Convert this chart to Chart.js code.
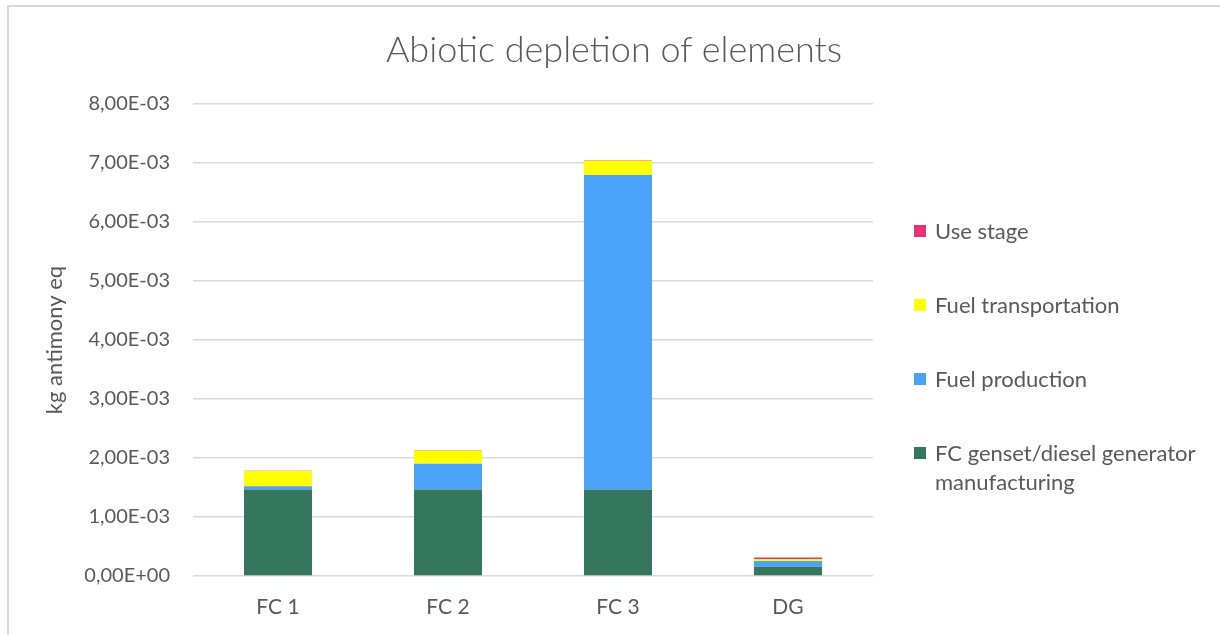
<!DOCTYPE html>
<html>
<head>
<meta charset="utf-8">
<title>Abiotic depletion of elements</title>
<script src="https://cdn.jsdelivr.net/npm/chart.js@4.4.1/dist/chart.umd.min.js"></script>
<style>
  html, body { margin: 0; padding: 0; background: #ffffff; }
  #wrap { position: relative; width: 1220px; height: 635px; overflow: hidden; font-family: Lato, "Open Sans", sans-serif; color: #595959; }
  #frame { position: absolute; left: 7px; top: 5px; right: -10px; bottom: -10px; border-left: 2px solid #d9d9d9; border-top: 2px solid #d9d9d9; }
  #c { position: absolute; left: 0; top: 0; }
  #title { position: absolute; left: 614px; top: 30px; transform: translateX(-50%); font-size: 36px; font-weight: 300; line-height: 1; white-space: nowrap; }
  .item { position: absolute; left: 914px; width: 300px; font-size: 22px; line-height: 28.5px; }
  .sw { position: absolute; left: 0; top: 8px; width: 12px; height: 12px; }
  .txt { position: absolute; left: 21px; width: 285px; }
</style>
</head>
<body>
<div id="wrap">
  <div id="frame"></div>
  <canvas id="c" width="1220" height="635"></canvas>
  <div id="title">Abiotic depletion of elements</div>
  <div id="legend"></div>
</div>
<script>
// Life-cycle stages per system (kg antimony eq)
const categories = ['FC 1', 'FC 2', 'FC 3', 'DG'];
const manufacturing = [1.467e-3, 1.467e-3, 1.460e-3, 0.155e-3];
const fuelProduction = [0.056e-3, 0.435e-3, 5.338e-3, 0.100e-3];
const fuelTransportation = [0.255e-3, 0.227e-3, 0.242e-3, 0.030e-3];
const useStage = [0.006e-3, 0.006e-3, 0.006e-3, 0.027e-3];

const seriesNames = ['FC genset/diesel generator manufacturing', 'Fuel production', 'Fuel transportation', 'Use stage'];
const seriesColors = ['#35775c', '#4aa3f9', '#ffff00', '#e8327a'];
const seriesValues = [manufacturing, fuelProduction, fuelTransportation, useStage];

const yMin = 0, yMax = 8e-3, yStep = 1e-3;
const textColor = '#595959';
const gridColor = '#d9d9d9';

// Excel-style scientific label, e.g. 8,00E-03
function sci(v) {
  if (Math.abs(v) < 1e-12) return '0,00E+00';
  const parts = v.toExponential(2).split('e');
  const exp = parseInt(parts[1], 10);
  return parts[0].replace('.', ',') + 'E' + (exp < 0 ? '-' : '+') + String(Math.abs(exp)).padStart(2, '0');
}

const datasets = seriesNames.map((name, i) => ({
  label: name,
  data: seriesValues[i],
  backgroundColor: seriesColors[i],
  borderWidth: 0,
  barPercentage: 0.4,
  categoryPercentage: 1.0
}));

new Chart(document.getElementById('c'), {
  type: 'bar',
  data: { labels: categories, datasets: datasets },
  options: {
    responsive: false,
    animation: false,
    layout: { padding: { top: 104, right: 347, bottom: 0, left: 0 } },
    plugins: {
      legend: { display: false },
      title: { display: false },
      tooltip: { enabled: false }
    },
    scales: {
      x: {
        stacked: true,
        grid: { display: false, drawTicks: false },
        border: { display: false },
        ticks: { color: textColor, font: { family: 'Lato', size: 21 }, padding: 19 },
        afterFit: (s) => { s.height = 59; }
      },
      y: {
        stacked: true,
        min: yMin,
        max: yMax,
        grid: { color: gridColor, lineWidth: 1.5, drawTicks: false },
        border: { display: false },
        ticks: {
          stepSize: yStep,
          color: textColor,
          font: { family: 'Lato', size: 20 },
          padding: 23,
          callback: (v) => sci(v)
        },
        title: {
          display: true,
          text: 'kg antimony eq',
          color: textColor,
          font: { family: 'Lato', size: 22 },
          padding: { top: 42, bottom: 0 }
        },
        afterFit: (s) => { s.width = 193; }
      }
    }
  }
});

// Legend: the top entry matches the top of the stack
const legendCenters = [453, 379, 305, 231];
const legend = document.getElementById('legend');
[3, 2, 1, 0].forEach((i) => {
  const item = document.createElement('div');
  item.className = 'item';
  item.style.top = (legendCenters[i] - 14) + 'px';
  const sw = document.createElement('div');
  sw.className = 'sw';
  sw.style.background = seriesColors[i];
  const txt = document.createElement('div');
  txt.className = 'txt';
  txt.textContent = seriesNames[i];
  item.appendChild(sw);
  item.appendChild(txt);
  legend.appendChild(item);
});
</script>
</body>
</html>
